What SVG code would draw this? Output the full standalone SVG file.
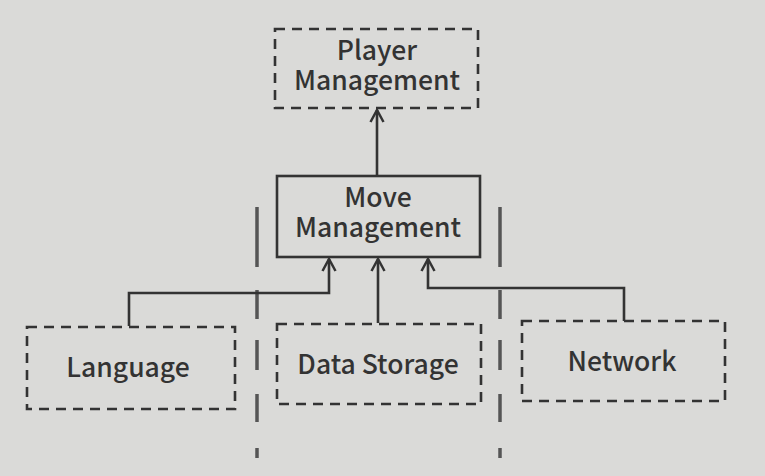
<svg xmlns="http://www.w3.org/2000/svg" width="765" height="476" viewBox="0 0 765 476">
<defs>
<style>
.bg{fill:#dadad8}
.dbox{fill:none;stroke:#333;stroke-width:2.6;stroke-dasharray:10 7}
.sbox{fill:none;stroke:#333;stroke-width:2.6}
.conn{fill:none;stroke:#333;stroke-width:2.6}
.sep{fill:none;stroke:#555;stroke-width:3.5;stroke-dasharray:60 23 29 21 30 24 28 26 10}
text{font-family:"Noto Sans CJK KR","Noto Sans",sans-serif;font-size:26.5px;font-weight:500;fill:#333;text-anchor:middle}
</style>
<marker id="arr" viewBox="0 0 16 16" refX="14" refY="8" markerWidth="16" markerHeight="16" markerUnits="userSpaceOnUse" orient="auto">
<path d="M2,1.5 L14,8 L2,14.5" fill="none" stroke="#333" stroke-width="2.5"/>
</marker>
</defs>
<rect class="bg" x="0" y="0" width="765" height="476"/>
<g id="separators">
<line class="sep" x1="257" y1="207" x2="257" y2="462"/>
<line class="sep" x1="500" y1="207" x2="500" y2="462"/>
</g>
<g id="connectors">
<line class="conn" x1="377" y1="175" x2="377" y2="110" marker-end="url(#arr)"/>
<polyline class="conn" points="129,326 129,293 329,293 329,259" marker-end="url(#arr)"/>
<line class="conn" x1="378" y1="323" x2="378" y2="259" marker-end="url(#arr)"/>
<polyline class="conn" points="624,321 624,288 428,288 428,259" marker-end="url(#arr)"/>
</g>
<g id="player-management">
<rect class="dbox" x="275" y="29" width="203" height="79"/>
<text x="377" y="60">Player</text>
<text x="377" y="90">Management</text>
</g>
<g id="move-management">
<rect class="sbox" x="277" y="176" width="203" height="81"/>
<text x="378" y="207">Move</text>
<text x="378" y="237">Management</text>
</g>
<g id="language">
<rect class="dbox" x="27" y="327" width="208" height="82"/>
<text x="128" y="377">Language</text>
</g>
<g id="data-storage">
<rect class="dbox" x="277" y="324" width="204" height="80"/>
<text x="378" y="374">Data Storage</text>
</g>
<g id="network">
<rect class="dbox" x="522" y="321" width="203" height="80"/>
<text x="622" y="371">Network</text>
</g>
</svg>
